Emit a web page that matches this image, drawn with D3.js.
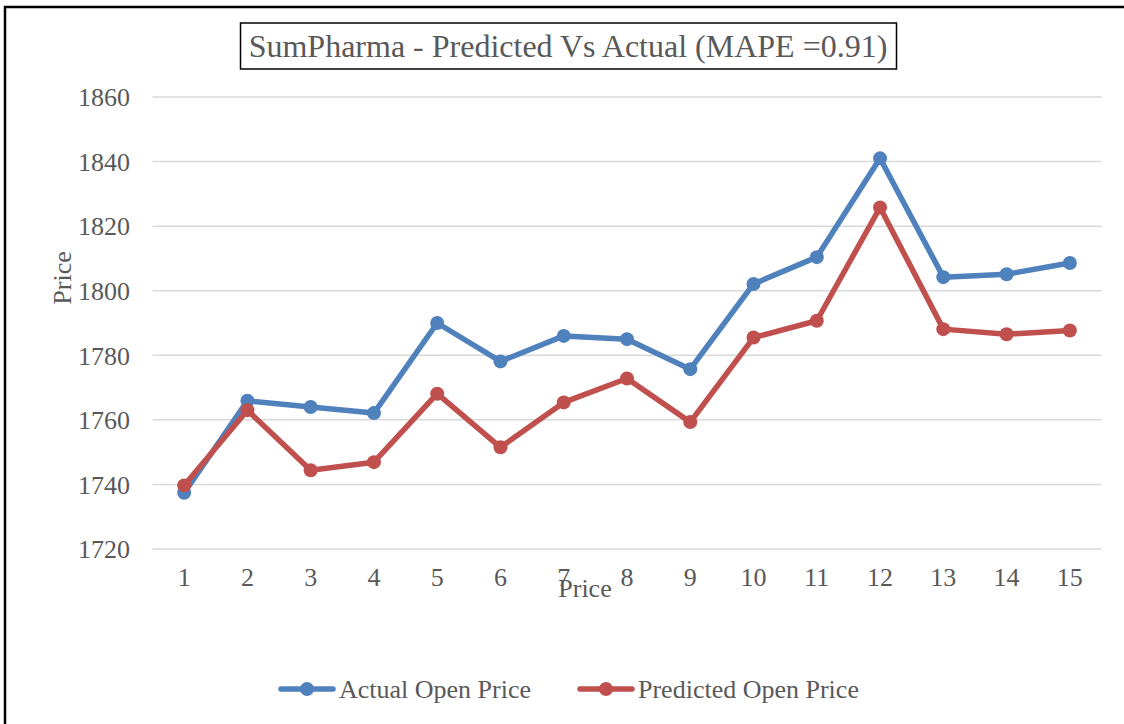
<!DOCTYPE html>
<html>
<head>
<meta charset="utf-8">
<script src="https://cdn.jsdelivr.net/npm/d3@7"></script>
<style>
  body { margin: 0; background: #fff; }
  svg { display: block; font-family: "Liberation Serif", "Times New Roman", serif; }
  .grid line { stroke: #d9d9d9; stroke-width: 1.5; }
  .tick text { fill: #595959; font-size: 26px; font-family: "Liberation Serif", "Times New Roman", serif; }
</style>
</head>
<body>
<svg width="1124" height="724"></svg>
<script>
// chart values
const categories = ["1","2","3","4","5","6","7","8","9","10","11","12","13","14","15"];
const actual = [1737.4, 1765.9, 1764.0, 1762.1, 1790.0, 1778.1, 1786.0, 1785.0, 1775.7,
                1802.1, 1810.4, 1841.0, 1804.2, 1805.1, 1808.6];
const predicted = [1739.7, 1763.0, 1744.4, 1746.9, 1768.1, 1751.5, 1765.4, 1772.8, 1759.3,
                   1785.5, 1790.7, 1825.8, 1788.1, 1786.5, 1787.7];
const yTicks = [1720, 1740, 1760, 1780, 1800, 1820, 1840, 1860];
const series = [
    {name: "Actual Open Price", values: actual, color: "#4f81bd"},
    {name: "Predicted Open Price", values: predicted, color: "#c0504d"}
];

const svg = d3.select("svg");

// outer chart border (open on right and bottom like the crop)
svg.append("path")
    .attr("d", "M5,724 L5,7 L1124,7")
    .attr("fill", "none")
    .attr("stroke", "#000")
    .attr("stroke-width", 2.5);

const x = d3.scaleBand()
    .domain(categories)
    .range([152.5, 1101.5]);

const y = d3.scaleLinear()
    .domain([1720, 1860])
    .range([549, 97]);

// gridlines
svg.append("g")
    .attr("class", "grid")
    .selectAll("line")
    .data(yTicks)
    .enter()
    .append("line")
    .attr("x1", 152.5)
    .attr("x2", 1101.5)
    .attr("y1", d => y(d))
    .attr("y2", d => y(d));

// y axis labels
const yAxis = svg.append("g")
    .attr("transform", "translate(152,0)")
    .call(d3.axisLeft(y).tickValues(yTicks).tickSize(0).tickPadding(22).tickFormat(d3.format("d")));
yAxis.select(".domain").remove();
yAxis.selectAll("text").attr("dy", "0.34em");

// x axis labels
const xAxis = svg.append("g")
    .attr("transform", "translate(0,549)")
    .call(d3.axisBottom(x).tickSize(0).tickPadding(19));
xAxis.select(".domain").remove();

// axis titles
svg.append("text")
    .attr("transform", "translate(71,278) rotate(-90)")
    .attr("text-anchor", "middle")
    .attr("fill", "#595959")
    .attr("font-size", 26)
    .text("Price");

svg.append("text")
    .attr("x", 585)
    .attr("y", 597)
    .attr("text-anchor", "middle")
    .attr("fill", "#595959")
    .attr("font-size", 26)
    .text("Price");

// lines and markers
const line = d3.line()
    .x((d, i) => x(categories[i]) + x.bandwidth() / 2)
    .y(d => y(d));

series.forEach(s => {
    svg.append("path")
        .datum(s.values)
        .attr("fill", "none")
        .attr("stroke", s.color)
        .attr("stroke-width", 5.5)
        .attr("stroke-linejoin", "round")
        .attr("d", line);

    svg.append("g")
        .selectAll("circle")
        .data(s.values)
        .enter()
        .append("circle")
        .attr("cx", (d, i) => x(categories[i]) + x.bandwidth() / 2)
        .attr("cy", d => y(d))
        .attr("r", 7)
        .attr("fill", s.color);
});

// title with box
svg.append("text")
    .attr("x", 568)
    .attr("y", 57)
    .attr("text-anchor", "middle")
    .attr("fill", "#595959")
    .attr("font-size", 32)
    .text("SumPharma - Predicted Vs Actual (MAPE =0.91)");

svg.append("rect")
    .attr("x", 240.5)
    .attr("y", 23)
    .attr("width", 656)
    .attr("height", 46)
    .attr("fill", "none")
    .attr("stroke", "#000")
    .attr("stroke-width", 1.5);

// legend
const legendX = [281, 580];
series.forEach((s, i) => {
    const g = svg.append("g").attr("transform", `translate(${legendX[i]},689)`);
    g.append("line")
        .attr("x1", 0).attr("x2", 52)
        .attr("stroke", s.color)
        .attr("stroke-width", 5.5)
        .attr("stroke-linecap", "round");
    g.append("circle")
        .attr("cx", 26)
        .attr("r", 7)
        .attr("fill", s.color);
    g.append("text")
        .attr("x", 58)
        .attr("dy", "0.34em")
        .attr("fill", "#595959")
        .attr("font-size", 26)
        .text(s.name);
});
</script>
</body>
</html>
